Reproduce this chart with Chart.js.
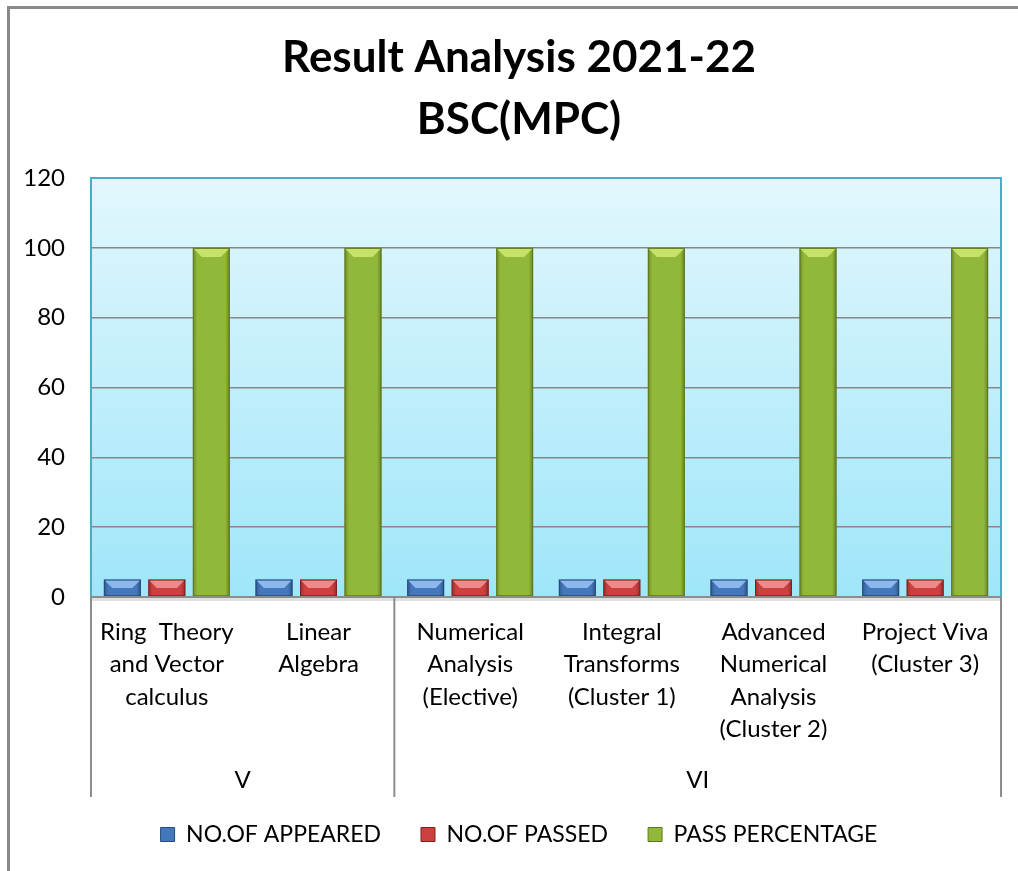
<!DOCTYPE html>
<html>
<head>
<meta charset="utf-8">
<title>Result Analysis 2021-22 BSC(MPC)</title>
<script src="https://cdn.jsdelivr.net/npm/chart.js@4.4.1/dist/chart.umd.min.js"></script>
<style>
    html, body { margin: 0; background: #fff; overflow: hidden; }
    #frame {
        position: absolute; left: 7px; top: 6px;
        width: 1100px; height: 1000px;
        border-left: 3px solid #8a8a8a; border-top: 3px solid #8a8a8a;
    }
    #resultChart { position: absolute; left: 0; top: 0; }
</style>
</head>
<body>
<div id="frame"></div>
<canvas id="resultChart" width="1040" height="871"></canvas>
<script>
// Subjects (category labels, one array per wrapped line)
const subjects = [
    ['Ring  Theory', 'and Vector', 'calculus'],
    ['Linear', 'Algebra'],
    ['Numerical', 'Analysis', '(Elective)'],
    ['Integral', 'Transforms', '(Cluster 1)'],
    ['Advanced', 'Numerical', 'Analysis', '(Cluster 2)'],
    ['Project Viva', '(Cluster 3)']
];
// Semester groups and how many subjects each spans
const semesters = ['V', 'VI'];
const semesterSizes = [2, 4];

const appeared = [5, 5, 5, 5, 5, 5];
const passed = [5, 5, 5, 5, 5, 5];
const passPercentage = [100, 100, 100, 100, 100, 100];

const yTicks = { min: 0, max: 120, step: 20 };

const FONT = 'Lato, "Open Sans", sans-serif';

// Colours for each series: body, bevel highlight, dark edge
const seriesColors = [
    { body: '#4477bb', light: '#8cb8ec', dark: '#244a7c' },
    { body: '#cc4040', light: '#ee8a88', dark: '#7c2220' },
    { body: '#92b83a', light: '#c6e368', dark: '#5c7a22' }
];

// Gradient background of the plot area
const plotBackground = {
    id: 'plotBackground',
    beforeDraw(chart) {
        const { ctx, chartArea: a } = chart;
        const g = ctx.createLinearGradient(0, a.top, 0, a.bottom);
        g.addColorStop(0, '#e2f7fd');
        g.addColorStop(1, '#9fe6f9');
        ctx.save();
        ctx.fillStyle = g;
        ctx.fillRect(a.left, a.top, a.right - a.left, a.bottom - a.top);
        ctx.restore();
    }
};

// Bevel / edge shading on top of each bar
const barBevel = {
    id: 'barBevel',
    afterDatasetsDraw(chart) {
        const ctx = chart.ctx;
        chart.data.datasets.forEach((ds, i) => {
            const meta = chart.getDatasetMeta(i);
            const c = seriesColors[i];
            meta.data.forEach(bar => {
                const left = bar.x - bar.width / 2;
                const right = bar.x + bar.width / 2;
                const top = bar.y;
                const bottom = bar.base;
                const b = Math.min(9, (bottom - top) / 2);
                ctx.save();
                // side shading
                const g = ctx.createLinearGradient(left, 0, right, 0);
                g.addColorStop(0, 'rgba(0,0,0,0.25)');
                g.addColorStop(0.12, 'rgba(0,0,0,0)');
                g.addColorStop(0.88, 'rgba(0,0,0,0)');
                g.addColorStop(1, 'rgba(0,0,0,0.3)');
                ctx.fillStyle = g;
                ctx.fillRect(left, top, right - left, bottom - top);
                // top bevel
                ctx.beginPath();
                ctx.moveTo(left, top);
                ctx.lineTo(right, top);
                ctx.lineTo(right - b, top + b);
                ctx.lineTo(left + b, top + b);
                ctx.closePath();
                ctx.fillStyle = c.light;
                ctx.fill();
                ctx.strokeStyle = c.dark;
                ctx.lineWidth = 1;
                ctx.strokeRect(left + 0.5, top + 0.5, right - left - 1, bottom - top - 1);
                ctx.restore();
            });
        });
    }
};

// Plot frame, x axis line, group dividers and semester labels
const groupAxis = {
    id: 'groupAxis',
    afterDraw(chart) {
        const { ctx, chartArea: a } = chart;
        const x = chart.scales.x;
        ctx.save();
        // teal plot border
        ctx.strokeStyle = '#4bacc6';
        ctx.lineWidth = 2;
        ctx.beginPath();
        ctx.moveTo(a.left, a.bottom);
        ctx.lineTo(a.left, a.top);
        ctx.lineTo(a.right, a.top);
        ctx.lineTo(a.right, a.bottom);
        ctx.stroke();
        // x axis line with soft shadow
        ctx.strokeStyle = 'rgba(0,0,0,0.12)';
        ctx.lineWidth = 3;
        ctx.beginPath();
        ctx.moveTo(a.left, a.bottom + 2.5);
        ctx.lineTo(a.right, a.bottom + 2.5);
        ctx.stroke();
        ctx.strokeStyle = '#8c8c8c';
        ctx.lineWidth = 2;
        ctx.beginPath();
        ctx.moveTo(a.left, a.bottom);
        ctx.lineTo(a.right, a.bottom);
        ctx.stroke();

        // dividers between semester groups
        const edges = [a.left];
        let idx = 0;
        semesterSizes.forEach((n, gi) => {
            idx += n;
            if (gi < semesterSizes.length - 1) {
                edges.push((x.getPixelForValue(idx - 1) + x.getPixelForValue(idx)) / 2);
            }
        });
        edges.push(a.right);
        ctx.strokeStyle = '#8c8c8c';
        ctx.lineWidth = 2;
        edges.forEach(ex => {
            ctx.beginPath();
            ctx.moveTo(ex, a.bottom);
            ctx.lineTo(ex, a.bottom + 200);
            ctx.stroke();
        });

        ctx.fillStyle = '#000';
        ctx.font = '24px ' + FONT;
        ctx.textAlign = 'center';
        ctx.textBaseline = 'middle';
        semesters.forEach((s, gi) => {
            ctx.fillText(s, (edges[gi] + edges[gi + 1]) / 2, a.bottom + 183);
        });
        ctx.restore();
    }
};

const datasets = [
    { label: 'NO.OF APPEARED', data: appeared },
    { label: 'NO.OF PASSED', data: passed },
    { label: 'PASS PERCENTAGE', data: passPercentage }
].map((d, i) => ({
    ...d,
    backgroundColor: seriesColors[i].body,
    borderColor: seriesColors[i].dark,
    borderWidth: 0,
    categoryPercentage: 0.88,
    barPercentage: 0.83
}));

new Chart(document.getElementById('resultChart'), {
    type: 'bar',
    data: { labels: subjects, datasets: datasets },
    options: {
        responsive: false,
        animation: false,
        layout: { padding: { left: 0, right: 2, top: 0, bottom: 15 } },
        plugins: {
            title: {
                display: true,
                text: ['Result Analysis 2021-22', 'BSC(MPC)'],
                color: '#000',
                font: { family: FONT, size: 44, weight: 'bold', lineHeight: 1.41 },
                padding: { top: 27, bottom: 27 }
            },
            legend: {
                position: 'bottom',
                labels: {
                    color: '#000',
                    font: { family: FONT, size: 23 },
                    boxWidth: 14,
                    boxHeight: 14,
                    padding: 40,
                    generateLabels(chart) {
                        return chart.data.datasets.map((ds, i) => ({
                            text: ds.label,
                            fillStyle: seriesColors[i].body,
                            strokeStyle: seriesColors[i].dark,
                            lineWidth: 1,
                            datasetIndex: i
                        }));
                    }
                }
            },
            tooltip: { enabled: false }
        },
        scales: {
            x: {
                grid: { display: false, drawTicks: false },
                border: { display: false },
                ticks: {
                    color: '#000',
                    font: { family: FONT, size: 24, lineHeight: 1.35 },
                    padding: 19,
                    maxRotation: 0,
                    autoSkip: false
                },
                afterFit(scale) { scale.height = 186; }
            },
            y: {
                min: yTicks.min,
                max: yTicks.max,
                grid: { color: '#878787', lineWidth: 1.5, drawTicks: false },
                border: { display: false },
                ticks: {
                    stepSize: yTicks.step,
                    color: '#000',
                    font: { family: FONT, size: 24 },
                    padding: 26
                },
                afterFit(scale) { scale.width = 91; }
            },
            // empty right-hand axis: the chart box runs past the picture on the right
            yRight: {
                position: 'right',
                grid: { display: false },
                border: { display: false },
                ticks: { display: false },
                afterFit(scale) { scale.width = 37; }
            }
        }
    },
    plugins: [plotBackground, barBevel, groupAxis]
});
</script>
</body>
</html>
